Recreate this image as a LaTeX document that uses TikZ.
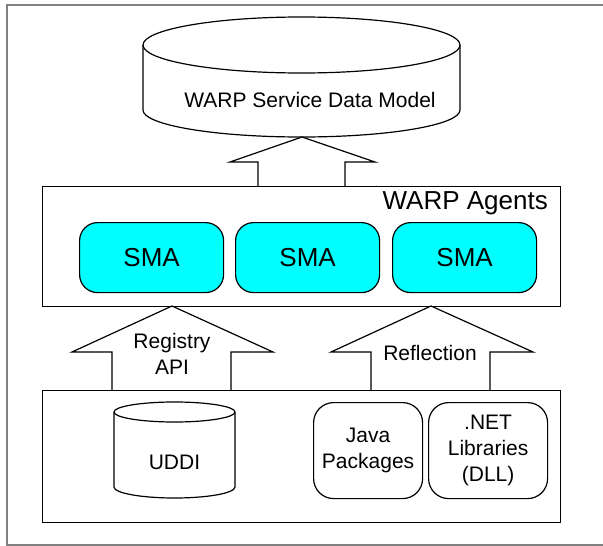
\documentclass[tikz,border=0pt]{standalone}
\usepackage{fontspec}
\setmainfont{Liberation Sans}
\usetikzlibrary{calc}
\definecolor{smacyan}{RGB}{0,255,255}
\definecolor{framegray}{RGB}{128,128,128}
\tikzset{
  line/.style={draw=black, line width=1.2pt},
  box/.style={line, rectangle, anchor=north west, inner sep=0pt},
  txt/.style={font=\fontsize{21}{26}\selectfont, align=center, inner sep=0pt},
  bigtxt/.style={font=\fontsize{26}{30}\selectfont, inner sep=0pt},
  smabox/.style={box, fill=smacyan, rounded corners=18pt, minimum width=144pt, minimum height=70pt, font=\fontsize{26}{30}\selectfont},
  libbox/.style={box, fill=white, rounded corners=20pt, minimum height=96pt, align=center, font=\fontsize{21}{26}\selectfont},
  blockarrow/.style={line, fill=white, line join=miter},
}
\begin{document}
\begin{tikzpicture}[x=1pt,y=-1pt]
\useasboundingbox (0,0) rectangle (603,546);
% outer frame (open to the right)
\draw[framegray, line width=2pt] (615,5) -- (7,5) -- (7,545) -- (615,545);

% WARP Service Data Model cylinder
\draw[line, fill=white] (143,45) -- (143,110) arc[start angle=180, end angle=0, x radius=158.5, y radius=27] -- (460,45);
\draw[line, fill=white] (301.5,45) ellipse[x radius=158.5, y radius=28];
\node[txt] (sdm) at (310,100) {WARP Service Data Model};
\coordinate (sdmbot) at (302,137);

% arrows (drawn first so box edges stay on top)
\coordinate (topbase) at (301.5,186);
\draw[blockarrow] ($(topbase)+(-43.5,0)$) -- ++(0,-24) -- ++(-28,0) -- (sdmbot) -- ($(sdmbot)+(73,25)$) -- ++(-30,0) -- ($(topbase)+(43.5,0)$);

\coordinate (regtip) at (172,306);
\coordinate (regbase) at (171.5,390);
\draw[blockarrow] ($(regbase)+(-59.5,0)$) -- ++(0,-38) -- ++(-40,0) -- (regtip) -- ($(regtip)+(101,46)$) -- ++(-42,0) -- ($(regbase)+(59.5,0)$);
\node[txt] (reglbl) at (172,354) {Registry\\API};

\coordinate (refltip) at (431,306);
\coordinate (reflbase) at (430.5,390);
\draw[blockarrow] ($(reflbase)+(-59.5,0)$) -- ++(0,-38) -- ++(-40,0) -- (refltip) -- ($(refltip)+(102,46)$) -- ++(-43,0) -- ($(reflbase)+(59.5,0)$);
\node[txt] (refllbl) at (430,353) {Reflection};

% WARP Agents box
\node[box, minimum width=518pt, minimum height=120pt] (agents) at (42,186) {};
\node[bigtxt, anchor=east] (agentslbl) at (548,203) {WARP Agents};
\node[smabox] (sma1) at (79,222) {SMA};
\node[smabox] (sma2) at (235,222) {SMA};
\node[smabox] (sma3) at (392,222) {SMA};

% bottom box
\node[box, minimum width=518pt, minimum height=132pt] (base) at (42,390) {};

% UDDI cylinder
\draw[line, fill=white] (114,412) -- (114,487) arc[start angle=180, end angle=0, x radius=60.5, y radius=11] -- (235,412);
\draw[line, fill=white] (174.5,412) ellipse[x radius=60.5, y radius=10];
\node[txt] (uddi) at (174.5,462) {UDDI};

\node[libbox, minimum width=109pt] (java) at (313,402) {Java\\Packages};
\node[libbox, minimum width=119pt] (net) at (428,402) {.NET\\Libraries\\(DLL)};
\end{tikzpicture}
\end{document}
